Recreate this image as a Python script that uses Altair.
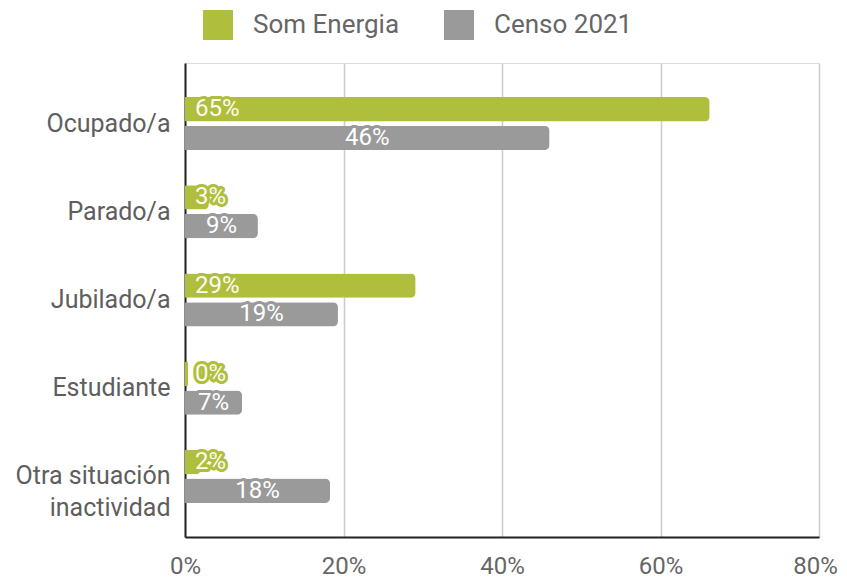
import altair as alt
import pandas as pd

categories = ["Ocupado/a", "Parado/a", "Jubilado/a", "Estudiante", "Otra situación\ninactividad"]
series = ["Som Energia", "Censo 2021"]
som_values = [66.2, 3.0, 29.1, 0.4, 2.0]
som_labels = ["65%", "3%", "29%", "0%", "2%"]
censo_values = [46.0, 9.2, 19.3, 7.2, 18.3]
censo_labels = ["46%", "9%", "19%", "7%", "18%"]
colors = ["#afbe3c", "#9a9a9a"]

rows = []
for c, v, l in zip(categories, som_values, som_labels):
    rows.append({"cat": c, "series": series[0], "value": v, "label": l})
for c, v, l in zip(categories, censo_values, censo_labels):
    rows.append({"cat": c, "series": series[1], "value": v, "label": l})
df = pd.DataFrame(rows)

FONT = "Roboto"
FS = 24

y_enc = alt.Y("cat:N", sort=categories, title=None,
              scale=alt.Scale(paddingInner=0.4, paddingOuter=0.386),
              axis=alt.Axis(labelExpr="split(datum.label, '\\n')", labelFontSize=25,
                            labelColor="#5e5e5e", labelFont=FONT, labelPadding=15,
                            labelLineHeight=32, ticks=False, domainColor="#222222",
                            domainWidth=2, grid=False))
yoff = alt.YOffset("series:N", sort=series, scale=alt.Scale(paddingInner=0.15))
color_enc = alt.Color("series:N", sort=series,
                      scale=alt.Scale(domain=series, range=colors),
                      legend=alt.Legend(title=None, orient="none", legendX=18, legendY=-53,
                                        direction="horizontal", symbolType="square",
                                        symbolSize=900, symbolStrokeWidth=0,
                                        labelFontSize=26, labelColor="#666666",
                                        labelFont=FONT, labelOffset=20, columnPadding=44))

bars = alt.Chart(df).mark_bar(cornerRadiusEnd=5).encode(
    x=alt.X("value:Q", title=None, scale=alt.Scale(domain=[0, 80], nice=False),
            axis=alt.Axis(values=[0, 20, 40, 60, 80], labelExpr="datum.value + '%'",
                          labelFontSize=FS, labelColor="#666666", labelFont=FONT,
                          labelPadding=17, labelFlush=False, ticks=False,
                          labelOffset={"condition": {"test": "datum.value == 80", "value": -4},
                                       "value": 0},
                          domainColor="#222222", domainWidth=2,
                          gridColor="#cccccc", gridWidth=1.5)),
    y=y_enc,
    yOffset=yoff,
    color=color_enc,
)

som = alt.Chart(df).transform_filter(alt.datum.series == series[0])
censo = alt.Chart(df).transform_filter(alt.datum.series == series[1]).transform_calculate(
    mid="datum.value / 2")

som_halo = som.mark_text(align="left", dx=10, fontSize=FS, font=FONT, fill=colors[0],
                         stroke=colors[0], strokeWidth=6, strokeJoin="round").encode(
    x=alt.datum(0), y=alt.Y("cat:N", sort=categories), yOffset=yoff, text="label:N")
som_text = som.mark_text(align="left", dx=10, fontSize=FS, font=FONT, color="#fbfbf2").encode(
    x=alt.datum(0), y=alt.Y("cat:N", sort=categories), yOffset=yoff, text="label:N")
censo_halo = censo.mark_text(align="center", fontSize=FS, font=FONT, fill=colors[1],
                             stroke=colors[1], strokeWidth=6, strokeJoin="round").encode(
    x="mid:Q", y=alt.Y("cat:N", sort=categories), yOffset=yoff, text="label:N")
censo_text = censo.mark_text(align="center", fontSize=FS, font=FONT, color="white").encode(
    x="mid:Q", y=alt.Y("cat:N", sort=categories), yOffset=yoff, text="label:N")

chart = alt.layer(bars, som_halo, som_text, censo_halo, censo_text).properties(
    width=634, height=474,
    autosize=alt.AutoSizeParams(type="none"),
    padding={"left": 177, "top": 55, "right": 20, "bottom": 46},
).configure_view(stroke=None).configure(font=FONT)

chart.save("out.html", embed_options={"renderer": "svg", "actions": False})
